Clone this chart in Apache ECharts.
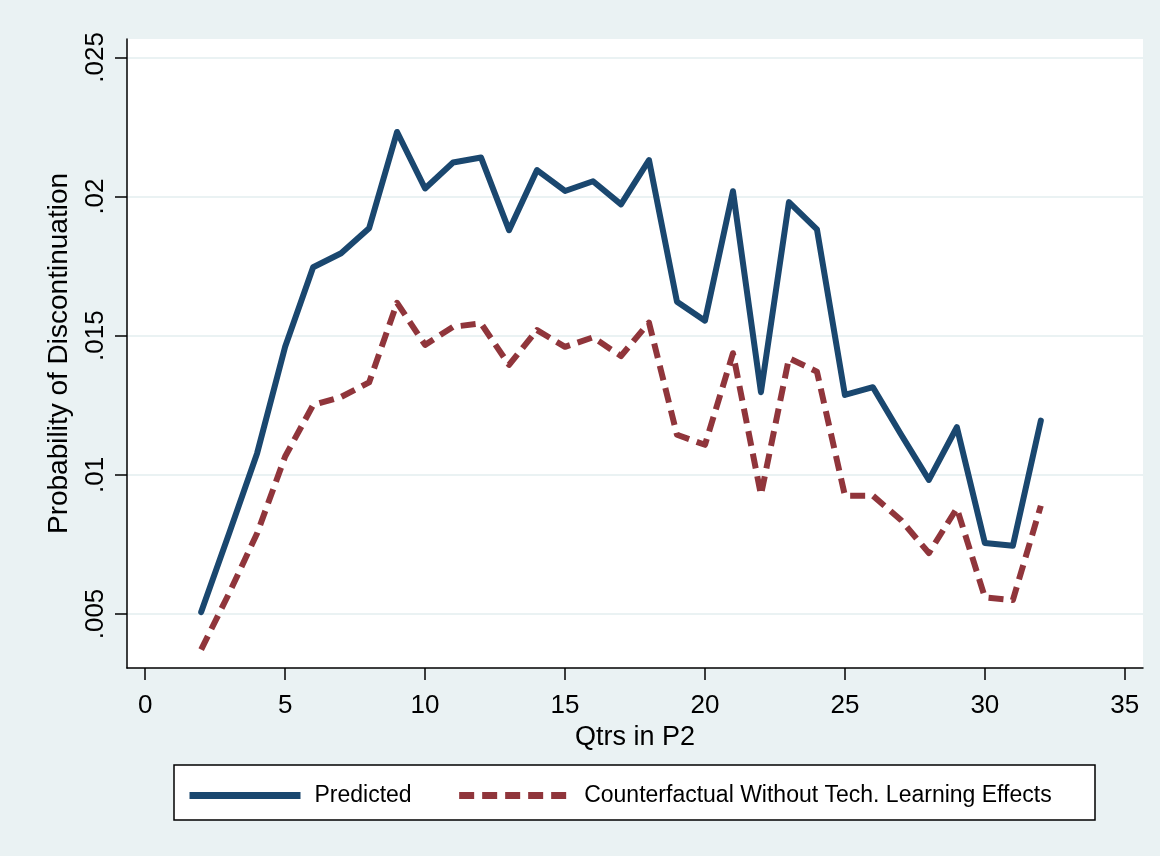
<!DOCTYPE html>
<html>
<head>
<meta charset="utf-8">
<script src="https://cdn.jsdelivr.net/npm/echarts@6/dist/echarts.min.js"></script>
<style>
html,body{margin:0;padding:0;background:#eaf2f3;}
#chart{width:1160px;height:856px;}
</style>
</head>
<body>
<div id="chart"></div>
<script>
// Quarters in P2
const quarters = [2,3,4,5,6,7,8,9,10,11,12,13,14,15,16,17,18,19,20,21,22,23,24,25,26,27,28,29,30,31,32];
// Predicted probability of discontinuation
const predicted = [0.00507,0.0079,0.01078,0.0146,0.01746,0.01796,0.01886,0.02232,0.02029,0.02122,0.0214,0.01879,0.02095,0.0202,0.02055,0.01972,0.02131,0.01622,0.01554,0.02019,0.01297,0.0198,0.01882,0.01287,0.01315,0.01146,0.00982,0.01171,0.00755,0.00745,0.01195];
// Counterfactual without tech. learning effects
const counterfactual = [0.00372,0.00575,0.0079,0.01066,0.01251,0.0128,0.01332,0.01618,0.01467,0.01532,0.01544,0.01395,0.0152,0.0146,0.01494,0.01427,0.01547,0.01144,0.01108,0.01437,0.00928,0.01419,0.01371,0.00925,0.00925,0.00838,0.00719,0.0088,0.0056,0.0055,0.00889];
const xTicks = [0,5,10,15,20,25,30,35];
const yTicks = [0.005,0.01,0.015,0.02,0.025];
const seriesNames = ['Predicted','Counterfactual Without Tech. Learning Effects'];
const xTitle = 'Qtrs in P2';
const yTitle = 'Probability of Discontinuation';

const FONT = '"Liberation Sans", Arial, sans-serif';
const chart = echarts.init(document.getElementById('chart'), null, {renderer:'canvas'});
const pairs = arr => quarters.map((q,i)=>[q, arr[i]]);

chart.setOption({
  backgroundColor:'#eaf2f3',
  animation:false,
  textStyle:{fontFamily:FONT},
  grid:{left:127, top:39, right:17, bottom:188, show:true, backgroundColor:'#ffffff', borderWidth:0, containLabel:false},
  xAxis:{
    type:'value', min:-0.65, max:35.65,
    name:xTitle, nameLocation:'middle', nameGap:51,
    nameTextStyle:{fontSize:27, color:'#000', fontFamily:FONT},
    axisLine:{show:true, onZero:false, lineStyle:{color:'#000', width:1.5}},
    axisTick:{show:true, inside:false, length:12, customValues:xTicks, lineStyle:{color:'#000', width:1.5}},
    axisLabel:{customValues:xTicks, fontSize:26, color:'#000', margin:25, fontFamily:FONT},
    splitLine:{show:false}
  },
  yAxis:{
    type:'value', min:0.00306, max:0.02566,
    name:yTitle, nameLocation:'middle', nameGap:54, nameRotate:90,
    nameTextStyle:{fontSize:28, color:'#000', fontFamily:FONT},
    axisLine:{show:true, onZero:false, lineStyle:{color:'#000', width:1.5}},
    axisTick:{show:true, inside:false, length:12, customValues:yTicks, lineStyle:{color:'#000', width:1.5}},
    axisLabel:{customValues:yTicks, rotate:90, fontSize:26, color:'#000', margin:18, fontFamily:FONT,
      formatter:v=>String(v).replace(/^0/,'')},
    splitLine:{show:true, customValues:yTicks, lineStyle:{color:'#eaf2f3', width:2}}
  },
  legend:{
    left:186, top:784, padding:0, itemWidth:111, itemHeight:14, itemGap:44, z:10,
    itemStyle:{opacity:0},
    lineStyle:{width:7, cap:'butt'},
    textStyle:{fontSize:23, color:'#000', fontFamily:FONT, padding:[0,0,0,9]},
    data:seriesNames
  },
  graphic:[{
    type:'rect', z:1, silent:true,
    shape:{x:174, y:765, width:921, height:55},
    style:{fill:'#ffffff', stroke:'#000000', lineWidth:1.5}
  }],
  series:[
    {name:seriesNames[0], type:'line', data:pairs(predicted), symbol:'none', z:3,
     lineStyle:{color:'#1a476f', width:6, cap:'round', join:'round'}, itemStyle:{color:'#1a476f'}},
    {name:seriesNames[1], type:'line', data:pairs(counterfactual), symbol:'none', z:2,
     lineStyle:{color:'#90353b', width:6, type:[15,8], cap:'butt', join:'round'}, itemStyle:{color:'#90353b'}}
  ]
});
</script>
</body>
</html>
